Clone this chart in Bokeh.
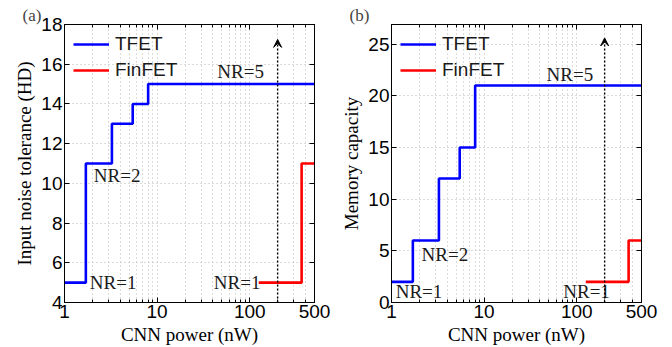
from bokeh.plotting import figure
from bokeh.layouts import row
from bokeh.models import (FixedTicker, LogAxis, LinearAxis, Legend, LegendItem,
                          Arrow, VeeHead, ColumnDataSource)
from bokeh.embed import file_html
from bokeh.resources import INLINE
from bokeh.core.properties import value

# ---------------- data ----------------
power_tfet = [1, 1.7, 3.25, 5.45, 8.0, 500]          # CNN power (nW), step edges
hd_tfet = [5, 11, 13, 14, 15, 15]                    # input noise tolerance (HD)
mem_tfet = [2, 6, 12, 15, 21, 21]                    # memory capacity

power_finfet = [125, 363, 500]
hd_finfet = [5, 11, 11]
mem_finfet = [2, 6, 6]

x_ticks = [1, 10, 100, 500]
x_tick_labels = ["1", "10", "100", "500"]
x_minor = [2, 3, 4, 5, 6, 7, 8, 9, 20, 30, 40, 50, 60, 70, 80, 90, 200, 300, 400]
hd_ticks = [4, 6, 8, 10, 12, 14, 16, 18]
mem_ticks = [0, 5, 10, 15, 20, 25]

marker_power = 200
hd_arrow_top = 17.25
mem_arrow_top = 25.6

hd_labels = ["NR=5", "NR=2", "NR=1", "NR=1"]
hd_label_x = [44.6, 2.07, 1.875, 40.9]
hd_label_y = [15.64, 10.42, 5.0, 5.0]
mem_labels = ["NR=5", "NR=2", "NR=1", "NR=1"]
mem_label_x = [47.2, 2.11, 1.11, 71.5]
mem_label_y = [22.07, 4.6, 1.08, 1.08]

SANS = "Liberation Sans"
SERIF = "Liberation Serif"
GRID = "#b8b8b8"


def style_axis(ax, show_labels):
    ax.axis_line_color = "black"
    ax.axis_line_width = 1
    ax.major_tick_in = 5
    ax.major_tick_out = 0
    ax.minor_tick_in = 3
    ax.minor_tick_out = 0
    ax.major_tick_line_color = "black"
    ax.minor_tick_line_color = "black"
    if show_labels:
        ax.major_label_text_font = SANS
        ax.major_label_text_font_size = "19px"
        ax.major_label_text_color = "black"
        ax.major_label_standoff = 2
        ax.axis_label_text_font = SERIF
        ax.axis_label_text_font_size = "19px"
        ax.axis_label_text_font_style = "normal"
        ax.axis_label_text_color = "black"
        ax.axis_label_standoff = 3
    else:
        ax.major_label_text_font_size = "1px"
        ax.major_label_text_alpha = 0
        ax.major_label_standoff = 0


def make_panel(tag, ylabel, y_range, y_ticks, tfet_y, finfet_y, arrow_top,
               labels, lx, ly, left_border, right_border):
    p = figure(width=336, height=347, x_axis_type="log", x_range=(1, 500),
               y_range=y_range, output_backend="svg", toolbar_location=None,
               min_border_left=left_border, min_border_right=right_border,
               min_border_top=24, min_border_bottom=44,
               background_fill_color="white", border_fill_color="white")
    p.outline_line_color = "black"
    p.outline_line_width = 1

    xt = FixedTicker(ticks=x_ticks, minor_ticks=x_minor)
    yt = FixedTicker(ticks=y_ticks, minor_ticks=[])

    p.xaxis.ticker = xt
    p.xaxis.major_label_overrides = {t: s for t, s in zip(x_ticks, x_tick_labels)}
    p.xaxis.axis_label = "CNN power (nW)"
    p.yaxis.ticker = yt
    p.yaxis.axis_label = ylabel
    style_axis(p.xaxis[0], True)
    style_axis(p.yaxis[0], True)
    p.yaxis.minor_tick_line_color = None

    top = LogAxis(ticker=FixedTicker(ticks=x_ticks, minor_ticks=x_minor))
    style_axis(top, False)
    p.add_layout(top, "above")
    right = LinearAxis(ticker=FixedTicker(ticks=y_ticks, minor_ticks=[]))
    style_axis(right, False)
    right.minor_tick_line_color = None
    p.add_layout(right, "right")

    p.xgrid.ticker = xt
    p.xgrid.grid_line_color = GRID
    p.xgrid.grid_line_dash = "1 3"
    p.xgrid.minor_grid_line_color = GRID
    p.xgrid.minor_grid_line_dash = "1 3"
    p.ygrid.ticker = yt
    p.ygrid.grid_line_color = GRID
    p.ygrid.grid_line_dash = "1 3"

    r1 = p.step(power_tfet, tfet_y, mode="after", line_color="#0000ff", line_width=2.6)
    r2 = p.step(power_finfet, finfet_y, mode="after", line_color="#ff0000", line_width=2.6)

    p.add_layout(Arrow(x_start=marker_power, y_start=y_range[0], x_end=marker_power,
                       y_end=arrow_top, line_color="black", line_width=1.4,
                       line_dash="2 2",
                       end=VeeHead(size=8, fill_color="black", line_color="black",
                                   line_width=1)))

    src = ColumnDataSource(dict(x=lx, y=ly, t=labels))
    p.text(x="x", y="y", text="t", source=src, text_font=value(SERIF),
           text_font_size="19px", text_color="#1a1a1a", text_align="left",
           text_baseline="middle")

    leg = Legend(items=[LegendItem(label="TFET", renderers=[r1]),
                        LegendItem(label="FinFET", renderers=[r2])],
                 location="top_left", margin=9, padding=9, spacing=4,
                 glyph_width=36, glyph_height=20, label_height=20,
                 label_standoff=6, label_text_font=SANS,
                 label_text_font_size="19px", label_text_color="#1a1a1a",
                 background_fill_alpha=0, border_line_color=None)
    p.add_layout(leg, "center")

    p.title.text = tag
    p.title.text_font = SERIF
    p.title.text_font_size = "17px"
    p.title.text_font_style = "normal"
    p.title.offset = -42
    p.title.standoff = 0
    return p


p1 = make_panel("(a)", "Input noise tolerance (HD)", (4, 18), hd_ticks, hd_tfet,
                hd_finfet, hd_arrow_top, hd_labels, hd_label_x, hd_label_y, 64, 22)
p2 = make_panel("(b)", "Memory capacity", (0, 26.9), mem_ticks, mem_tfet,
                mem_finfet, mem_arrow_top, mem_labels, mem_label_x, mem_label_y, 55, 31)

layout = row(p1, p2)
open("out.html", "w").write(file_html(layout, INLINE))
